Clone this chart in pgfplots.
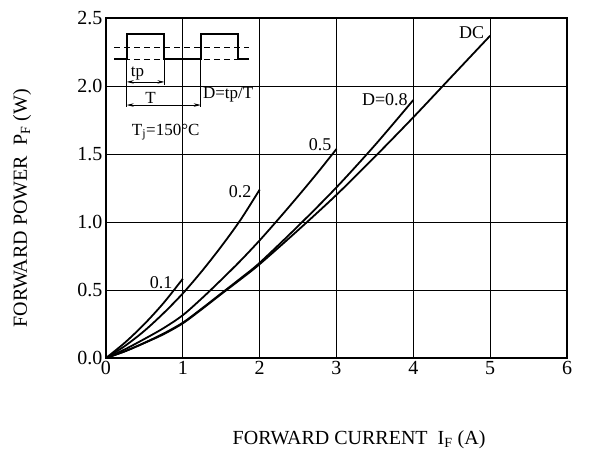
\documentclass[border=0pt]{standalone}
\usepackage{fontspec}
\setmainfont{Liberation Serif}
\usepackage{pgfplots}
\pgfplotsset{compat=1.18}
\usetikzlibrary{arrows.meta}
\pgfplotsset{curve/.style={black,line width=1.8pt,smooth,mark=none}}

\begin{document}
\begin{tikzpicture}
\path[use as bounding box] (-106pt,-109pt) rectangle (483pt,358pt);
\begin{axis}[
  at={(0,0)}, anchor=south west,
  width=461pt, height=340pt, scale only axis,
  xmin=0, xmax=6, ymin=0, ymax=2.5,
  xtick={0,1,...,6},
  ytick={0,0.5,1,1.5,2,2.5},
  yticklabel style={/pgf/number format/fixed,/pgf/number format/fixed zerofill,/pgf/number format/precision=1},
  /pgf/number format/assume math mode=true,
  tick label style={font=\fontsize{20}{20}\selectfont},
  major tick length=0pt,
  grid=major,
  major grid style={black,line width=1pt},
  axis line style={line width=2.4pt},
  xlabel={FORWARD CURRENT\ \ I\textsubscript{F} (A)},
  ylabel={FORWARD POWER\ \ P\textsubscript{F} (W)},
  label style={font=\fontsize{20}{20}\selectfont},
  xlabel style={at={(axis description cs:0.549,-0.241)},anchor=center},
  ylabel style={at={(axis description cs:-0.182,0.44)},anchor=center},
  clip=false,
]
% DC
\addplot[curve] coordinates {(0,0)(0.25,0.05)(0.5,0.11)(0.75,0.175)(1,0.255)(1.25,0.36)(1.5,0.47)(1.75,0.578)(2,0.69)(2.5,0.94)(3,1.2)(3.5,1.48)(4,1.77)(4.5,2.07)(5,2.37)};
% D=0.8
\addplot[curve] coordinates {(0,0)(0.25,0.05)(0.5,0.112)(0.75,0.18)(1,0.26)(1.25,0.365)(1.5,0.475)(1.75,0.585)(2,0.70)(2.5,0.97)(3,1.255)(3.5,1.565)(4,1.897)};
% D=0.5
\addplot[curve] coordinates {(0,0)(0.25,0.065)(0.5,0.14)(0.75,0.22)(1,0.315)(1.25,0.44)(1.5,0.575)(1.75,0.715)(2,0.865)(2.25,1.025)(2.5,1.19)(2.75,1.36)(3,1.537)};
% D=0.2
\addplot[curve] coordinates {(0,0)(0.25,0.09)(0.5,0.2)(0.75,0.33)(1,0.475)(1.25,0.64)(1.5,0.82)(1.75,1.015)(2,1.238)};
% D=0.1
\addplot[curve] coordinates {(0,0)(0.25,0.115)(0.5,0.25)(0.75,0.405)(1,0.583)};

\begin{scope}[font=\fontsize{18}{18}\selectfont]
\node at (axis cs:0.716,0.555) {0.1};
\node at (axis cs:1.745,1.224) {0.2};
\node at (axis cs:2.786,1.566) {0.5};
\node at (axis cs:3.63,1.897) {D=0.8};
\node at (axis cs:4.76,2.39) {DC};
\end{scope}

% pulse sketch
\draw[line width=2pt] (axis cs:0.108,2.196) -- (axis cs:0.27,2.196) -- (axis cs:0.27,2.38) -- (axis cs:0.76,2.38) -- (axis cs:0.76,2.196) -- (axis cs:1.233,2.196) -- (axis cs:1.233,2.38) -- (axis cs:1.715,2.38) -- (axis cs:1.715,2.196) -- (axis cs:1.86,2.196);
\draw[line width=0.8pt,dash pattern=on 6pt off 4pt] (axis cs:0.108,2.287) -- (axis cs:1.86,2.287);
\draw[line width=0.8pt,dash pattern=on 6pt off 4pt] (axis cs:0.108,2.196) -- (axis cs:1.86,2.196);
\draw[line width=0.6pt] (axis cs:0.27,2.196) -- (axis cs:0.27,1.845);
\draw[line width=0.6pt] (axis cs:0.76,2.196) -- (axis cs:0.76,2.01);
\draw[line width=0.6pt] (axis cs:1.233,2.196) -- (axis cs:1.233,1.845);
\draw[line width=0.7pt,{Stealth[length=7pt,width=3.5pt]}-{Stealth[length=7pt,width=3.5pt]}] (axis cs:0.27,2.03) -- (axis cs:0.76,2.03);
\draw[line width=0.7pt,{Stealth[length=7pt,width=3.5pt]}-{Stealth[length=7pt,width=3.5pt]}] (axis cs:0.27,1.86) -- (axis cs:1.233,1.86);
\begin{scope}[font=\fontsize{17}{17}\selectfont]
\node at (axis cs:0.41,2.09) {tp};
\node at (axis cs:0.58,1.915) {T};
\node at (axis cs:1.59,1.934) {D=tp/T};
\node at (axis cs:0.777,1.66) {T\textsubscript{j}=150°C};
\end{scope}
\end{axis}
\end{tikzpicture}
\end{document}
